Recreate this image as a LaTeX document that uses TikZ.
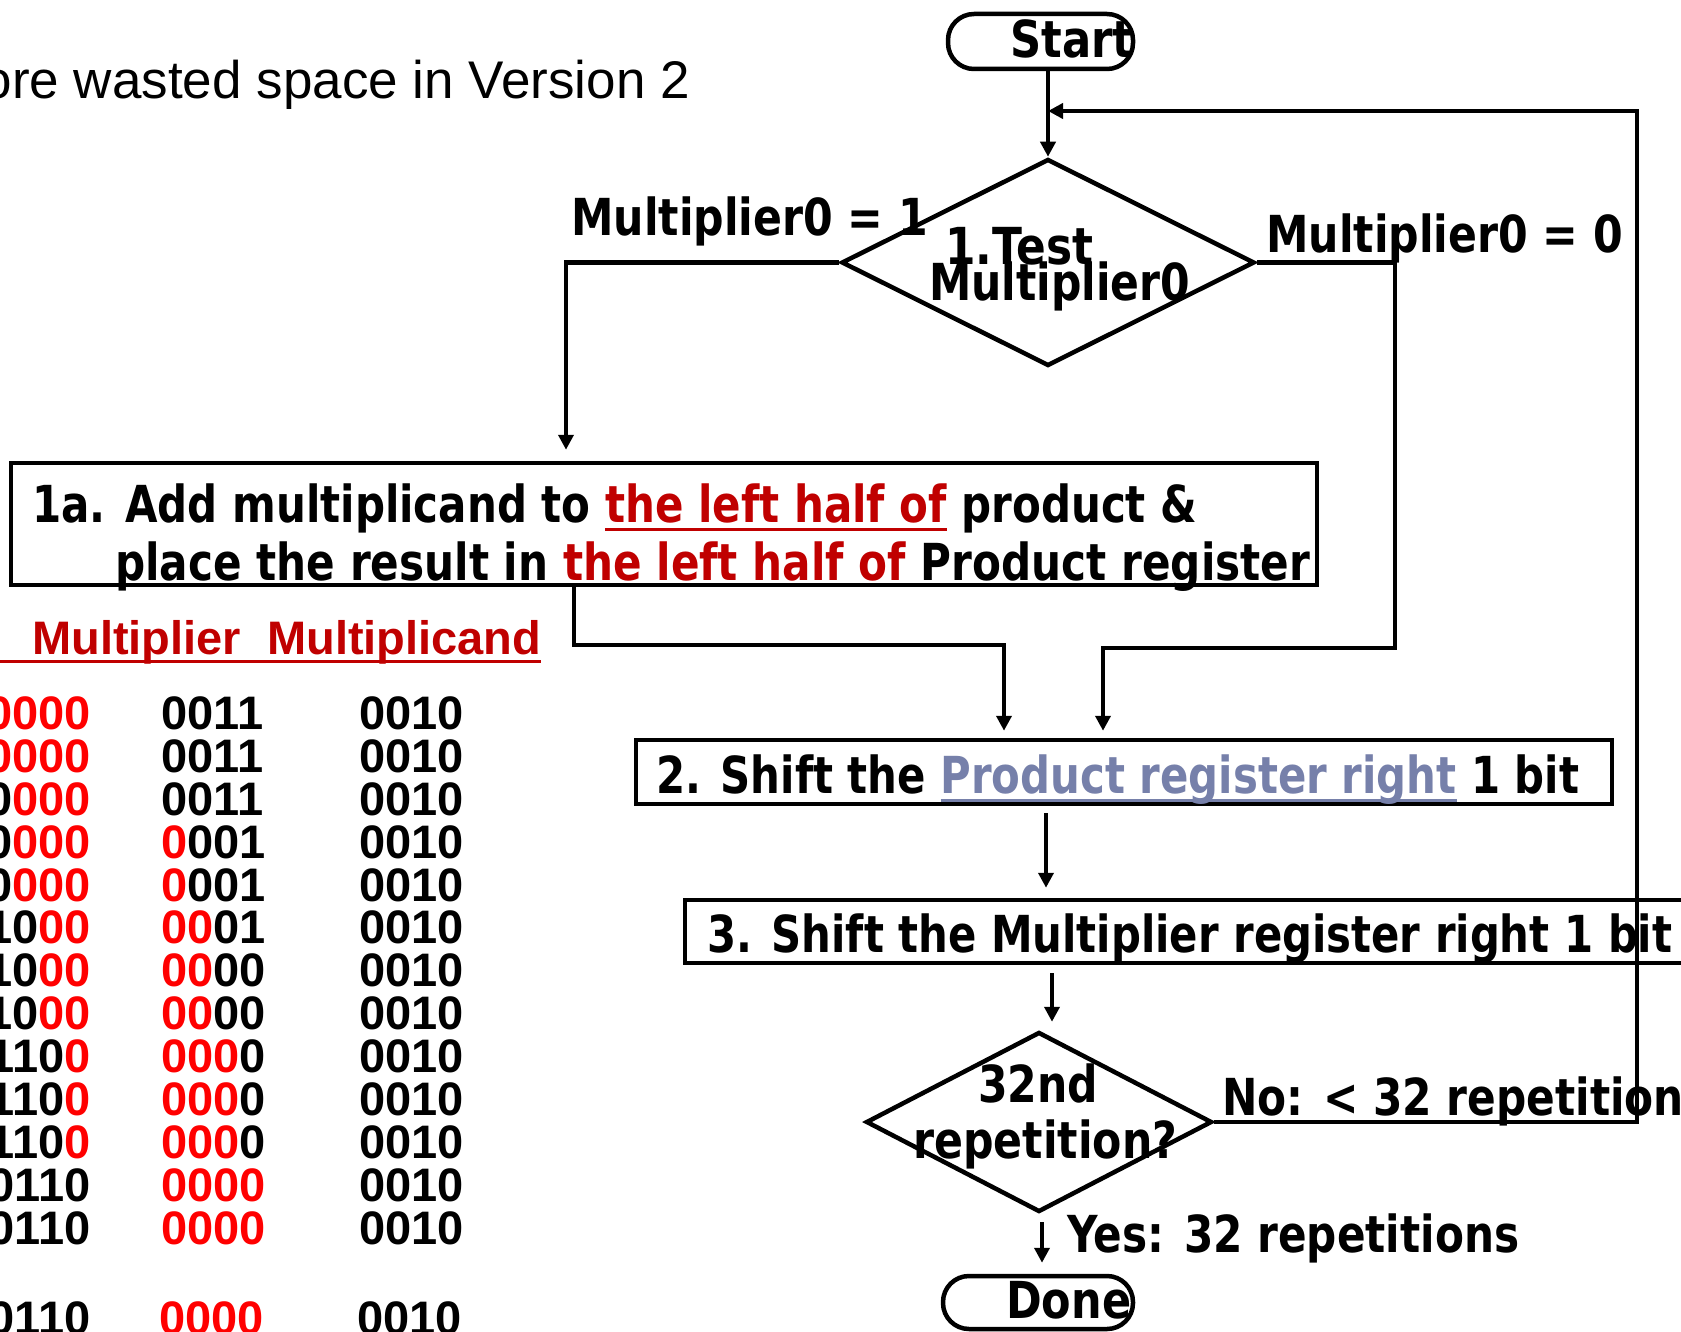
\documentclass[tikz,border=0pt]{standalone}
\usepackage{fontspec}
\setmainfont{Liberation Sans}
\newfontfamily\flowfont{DejaVu Sans}
\usepackage{graphicx}
\usetikzlibrary{shapes.geometric,arrows.meta}
\definecolor{headred}{RGB}{192,0,0}
\definecolor{bitred}{RGB}{255,0,0}
\definecolor{regblue}{RGB}{118,128,170}
\newsavebox\ulbox
\newcommand\ulin[1]{\sbox\ulbox{#1}\rlap{\rule[-9pt]{\wd\ulbox}{3.5pt}}\usebox\ulbox}
\newcommand\fw[2]{\resizebox{#1pt}{\height}{#2}}
\newcommand\rbit[1]{\textcolor{bitred}{#1}}
\begin{document}
\begin{tikzpicture}[x=1pt,y=-1pt,
  flow/.style={font=\flowfont\bfseries\fontsize{51}{56}\selectfont,inner sep=0pt,anchor=base west},
  bits/.style={font=\bfseries\fontsize{47}{50}\selectfont,inner sep=0pt},
  stepbox/.style={draw,line width=4.5pt,inner sep=0pt},
  term/.style={draw,line width=4.5pt,rounded corners=26pt,inner sep=0pt},
  decision/.style={diamond,draw,line width=4.5pt,inner sep=0pt},
  link/.style={line width=4.2pt,-{Triangle[length=15pt,width=15pt]}}]
\useasboundingbox (0,0) rectangle (1681,1332);
\clip (0,0) rectangle (1681,1332);
% title line
\node[font=\fontsize{53}{56}\selectfont,inner sep=0pt,anchor=base east] (title) at (690,99) {ore wasted space in Version 2};
% flowchart shapes
\node[term,minimum width=185pt,minimum height=55pt] (start) at (1040.5,41.5) {};
\node[decision,minimum width=413pt,minimum height=207pt] (test) at (1048,262.5) {};
\node[stepbox,minimum width=1306pt,minimum height=122pt] (addbox) at (664,524) {};
\node[stepbox,minimum width=976pt,minimum height=64pt] (shiftp) at (1124,772) {};
\node[stepbox,minimum width=1015pt,minimum height=63pt] (shiftm) at (1192.5,931.5) {};
\node[decision,minimum width=346pt,minimum height=180pt] (rep) at (1039,1122) {};
\node[term,minimum width=190pt,minimum height=53pt] (done) at (1038,1302.5) {};
% flowchart texts
\node[flow] (startlbl) at (1010,58) {\fw{123}{Start}};
\node[flow] (testl1) at (945,265) {\fw{148}{1.Test}};
\node[flow] (testl2) at (929,301) {\fw{261}{Multiplier0}};
\node[flow] (onelbl) at (571,236) {\fw{357}{Multiplier0 = 1}};
\node[flow] (zerolbl) at (1266,253) {\fw{357}{Multiplier0 = 0}};
\node[flow] (addl1) at (32,522) {\fw{1165}{1a. Add multiplicand to \textcolor{headred}{\ulin{the left half of}} product \&}};
\node[flow] (addl2) at (115,580) {\fw{1195}{place the result in \textcolor{headred}{the left half of} Product register}};
\node[flow] (shiftplbl) at (656,793) {\fw{923}{2. Shift the \textcolor{regblue}{\ulin{Product register right}} 1 bit}};
\node[flow] (shiftmlbl) at (707,952) {\fw{965}{3. Shift the Multiplier register right 1 bit}};
\node[flow] (repl1) at (978,1102) {\fw{120}{32nd}};
\node[flow] (repl2) at (913,1158) {\fw{264}{repetition?}};
\node[flow] (nolbl) at (1222,1115) {\fw{487}{No: < 32 repetitions}};
\node[flow] (yeslbl) at (1067,1252) {\fw{452}{Yes: 32 repetitions}};
\node[flow] (donelbl) at (1006,1318) {\fw{125}{Done}};
% connectors
\coordinate (loopc) at (1637,111);
\coordinate (rbend) at (1395,648);
\coordinate (lbend) at (1004,645);
\draw[link] (test.north |- start.south) -- (test.north);
\draw[link] (rep.east) -| (loopc) -- (test.north |- loopc);
\draw[link,shorten >=11pt] (test.west) -| ([xshift=-98pt]addbox.north);
\draw[link,shorten >=7pt] (test.east) -| (rbend) -| ([xshift=-21pt]shiftp.north);
\draw[link,shorten >=7pt] ([xshift=-90pt]addbox.south) |- (lbend) -- (lbend |- shiftp.north);
\draw[link,shorten <=7pt,shorten >=10pt] ([xshift=-78pt]shiftp.south) -- ([xshift=-78pt]shiftp.south |- shiftm.north);
\draw[link,shorten <=8pt,shorten >=8pt] ([xshift=-140.5pt]shiftm.south) -- ([xshift=-140.5pt]shiftm.south |- rep.north);
\draw[link,shorten <=8pt,shorten >=11pt] ([xshift=3pt]rep.south) -- ([xshift=3pt]rep.south |- done.north);
% table
\node[bits,anchor=base west,text=headred] (colhead) at (0,654) {\ulin{\hspace*{32pt}Multiplier\ \ Multiplicand}};
\node[bits,anchor=base east] (p1) at (91,729) {\rbit{0000}};
\node[bits,anchor=base west] (m1) at (161,729) {0011};
\node[bits,anchor=base west] (c1) at (359,729) {0010};
\node[bits,anchor=base east] (p2) at (91,772) {\rbit{0000}};
\node[bits,anchor=base west] (m2) at (161,772) {0011};
\node[bits,anchor=base west] (c2) at (359,772) {0010};
\node[bits,anchor=base east] (p3) at (91,815) {0\rbit{000}};
\node[bits,anchor=base west] (m3) at (161,815) {0011};
\node[bits,anchor=base west] (c3) at (359,815) {0010};
\node[bits,anchor=base east] (p4) at (91,858) {0\rbit{000}};
\node[bits,anchor=base west] (m4) at (161,858) {\rbit{0}001};
\node[bits,anchor=base west] (c4) at (359,858) {0010};
\node[bits,anchor=base east] (p5) at (91,901) {0\rbit{000}};
\node[bits,anchor=base west] (m5) at (161,901) {\rbit{0}001};
\node[bits,anchor=base west] (c5) at (359,901) {0010};
\node[bits,anchor=base east] (p6) at (91,943) {10\rbit{00}};
\node[bits,anchor=base west] (m6) at (161,943) {\rbit{00}01};
\node[bits,anchor=base west] (c6) at (359,943) {0010};
\node[bits,anchor=base east] (p7) at (91,986) {10\rbit{00}};
\node[bits,anchor=base west] (m7) at (161,986) {\rbit{00}00};
\node[bits,anchor=base west] (c7) at (359,986) {0010};
\node[bits,anchor=base east] (p8) at (91,1029) {10\rbit{00}};
\node[bits,anchor=base west] (m8) at (161,1029) {\rbit{00}00};
\node[bits,anchor=base west] (c8) at (359,1029) {0010};
\node[bits,anchor=base east] (p9) at (91,1072) {110\rbit{0}};
\node[bits,anchor=base west] (m9) at (161,1072) {\rbit{000}0};
\node[bits,anchor=base west] (c9) at (359,1072) {0010};
\node[bits,anchor=base east] (p10) at (91,1115) {110\rbit{0}};
\node[bits,anchor=base west] (m10) at (161,1115) {\rbit{000}0};
\node[bits,anchor=base west] (c10) at (359,1115) {0010};
\node[bits,anchor=base east] (p11) at (91,1158) {110\rbit{0}};
\node[bits,anchor=base west] (m11) at (161,1158) {\rbit{000}0};
\node[bits,anchor=base west] (c11) at (359,1158) {0010};
\node[bits,anchor=base east] (p12) at (91,1201) {0110};
\node[bits,anchor=base west] (m12) at (161,1201) {\rbit{0000}};
\node[bits,anchor=base west] (c12) at (359,1201) {0010};
\node[bits,anchor=base east] (p13) at (91,1244) {0110};
\node[bits,anchor=base west] (m13) at (161,1244) {\rbit{0000}};
\node[bits,anchor=base west] (c13) at (359,1244) {0010};
\node[bits,anchor=base east] (p14) at (91,1334) {0110};
\node[bits,anchor=base west] (m14) at (159,1334) {\rbit{0000}};
\node[bits,anchor=base west] (c14) at (357,1334) {0010};
\end{tikzpicture}
\end{document}
